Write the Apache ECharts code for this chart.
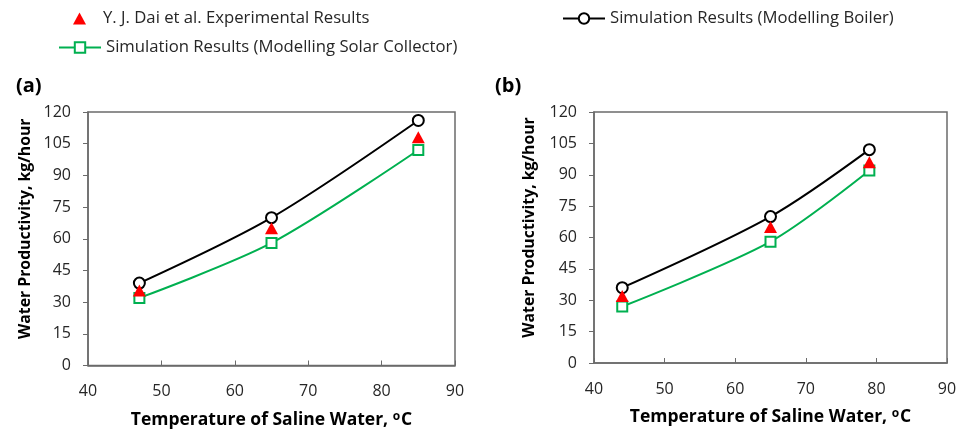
<!DOCTYPE html>
<html>
<head>
<meta charset="utf-8">
<script src="https://cdn.jsdelivr.net/npm/echarts@6/dist/echarts.min.js"></script>
<style>
  html, body { margin: 0; padding: 0; background: #ffffff; }
  #chart { width: 965px; height: 434px; }
</style>
</head>
<body>
<div id="chart"></div>
<script>
// Panel (a)
const tempA = [47, 65, 85];
const daiA = [35.5, 65, 108];
const boilerA = [39, 70, 116];
const solarA = [32, 58, 102];

// Panel (b)
const tempB = [44, 65, 79];
const daiB = [32, 65, 96];
const boilerB = [36, 70, 102];
const solarB = [27, 58, 92];

// Axis ranges
const xMin = 40, xMax = 90, xStep = 10;
const yMin = 0, yMax = 120, yStep = 15;

const NAME_DAI = 'Y. J. Dai et al. Experimental Results';
const NAME_BOILER = 'Simulation Results (Modelling Boiler)';
const NAME_SOLAR = 'Simulation Results (Modelling Solar Collector)';

const FONT = '"Open Sans", sans-serif';
const AXIS_COLOR = '#6b6b6b';
const TEXT_COLOR = '#262626';
const GREEN = '#00b050';
const RED = '#ff0000';

function pairs(xs, ys) { return xs.map((x, i) => [x, ys[i]]); }

function xAxisFor(grid) {
  return {
    type: 'value', gridIndex: grid, min: xMin, max: xMax, interval: xStep,
    name: 'Temperature of Saline Water, {sup|o}C',
    nameLocation: 'middle', nameGap: 45,
    nameTextStyle: {
      fontFamily: FONT, fontSize: 17.5, fontWeight: 'bold', color: '#000',
      rich: { sup: { fontFamily: FONT, fontSize: 12, fontWeight: 'bold', color: '#000', verticalAlign: 'top', padding: [0, 1, 7, 0] } }
    },
    axisLine: { show: true, lineStyle: { color: AXIS_COLOR, width: 1.5 } },
    axisTick: { show: true, inside: true, length: 5, lineStyle: { color: AXIS_COLOR } },
    axisLabel: { margin: 18, fontFamily: FONT, fontSize: 16, color: TEXT_COLOR },
    splitLine: { show: false }
  };
}

function yAxisFor(grid, gap) {
  return {
    type: 'value', gridIndex: grid, min: yMin, max: yMax, interval: yStep,
    name: 'Water Productivity, kg/hour',
    nameLocation: 'middle', nameGap: gap,
    nameTextStyle: { fontFamily: FONT, fontSize: 15.8, fontWeight: 'bold', color: '#000', padding: [0, 0, 0, 20] },
    axisLine: { show: true, lineStyle: { color: AXIS_COLOR, width: 1.5 } },
    axisTick: { show: true, inside: false, length: 5, lineStyle: { color: AXIS_COLOR } },
    axisLabel: { margin: 17, fontFamily: FONT, fontSize: 16, color: TEXT_COLOR },
    splitLine: { show: false }
  };
}

function seriesFor(idx, temps, dai, boiler, solar) {
  return [
    {
      name: NAME_BOILER, type: 'line', xAxisIndex: idx, yAxisIndex: idx,
      data: pairs(temps, boiler), smooth: 0.3,
      lineStyle: { color: '#000', width: 2 },
      itemStyle: { color: '#fff', borderColor: '#000', borderWidth: 2 },
      symbol: 'circle', symbolSize: 11, z: 2
    },
    {
      name: NAME_SOLAR, type: 'line', xAxisIndex: idx, yAxisIndex: idx,
      data: pairs(temps, solar), smooth: 0.3,
      lineStyle: { color: GREEN, width: 2 },
      itemStyle: { color: '#fff', borderColor: GREEN, borderWidth: 2 },
      symbol: 'rect', symbolSize: 10, z: 2
    },
    {
      name: NAME_DAI, type: 'scatter', xAxisIndex: idx, yAxisIndex: idx,
      data: pairs(temps, dai),
      itemStyle: { color: RED, opacity: 1 },
      symbol: 'triangle', symbolSize: [13, 12], z: 3
    }
  ];
}

const legendText = { fontFamily: FONT, fontSize: 16.7, color: TEXT_COLOR };

const option = {
  backgroundColor: '#ffffff',
  animation: false,
  title: [
    { text: '(a)', left: 11, top: 71, textStyle: { fontFamily: FONT, fontSize: 20, fontWeight: 'bold', color: '#000' } },
    { text: '(b)', left: 490, top: 71, textStyle: { fontFamily: FONT, fontSize: 20, fontWeight: 'bold', color: '#000' } }
  ],
  legend: [
    {
      data: [NAME_DAI], left: 73, top: 10, itemWidth: 13, itemHeight: 12,
      padding: 0, textStyle: Object.assign({ padding: [0, 0, 0, 12] }, legendText),
      itemStyle: { opacity: 1 }
    },
    {
      data: [NAME_BOILER], left: 562, top: 10, itemWidth: 42, itemHeight: 13,
      padding: 0, textStyle: legendText
    },
    {
      data: [NAME_SOLAR], left: 58, top: 39, itemWidth: 42, itemHeight: 13,
      padding: 0, textStyle: legendText
    }
  ],
  grid: [
    { left: 88, top: 112, width: 367, height: 254, show: true, borderColor: AXIS_COLOR, borderWidth: 1.5, backgroundColor: 'transparent' },
    { left: 594, top: 112, width: 353, height: 251, show: true, borderColor: AXIS_COLOR, borderWidth: 1.5, backgroundColor: 'transparent' }
  ],
  xAxis: [xAxisFor(0), xAxisFor(1)],
  yAxis: [yAxisFor(0, 55), yAxisFor(1, 57)],
  series: [
    ...seriesFor(0, tempA, daiA, boilerA, solarA),
    ...seriesFor(1, tempB, daiB, boilerB, solarB)
  ]
};

const chart = echarts.init(document.getElementById('chart'), null, { renderer: 'canvas' });
chart.setOption(option);
</script>
</body>
</html>
